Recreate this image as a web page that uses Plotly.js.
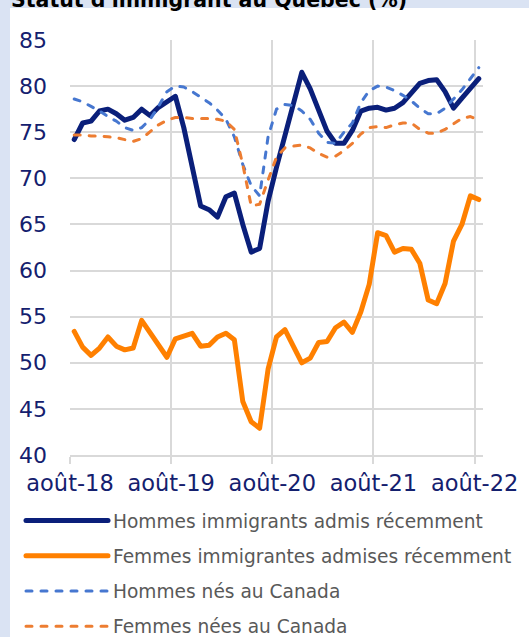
<!DOCTYPE html>
<html><head><meta charset="utf-8">
<script src="https://cdn.plot.ly/plotly-3.0.1.min.js"></script>
<style>
html,body{margin:0;padding:0;background:#dae3f3;overflow:hidden;}
#chart{width:529px;height:637px;}
.scatterlayer .js-line, .legendlines path{stroke-linecap:round;stroke-linejoin:round;}
</style></head><body><div id="chart"></div><script>
const months = ['2018-08','2018-09','2018-10','2018-11','2018-12',
'2019-01','2019-02','2019-03','2019-04','2019-05','2019-06','2019-07','2019-08','2019-09','2019-10','2019-11','2019-12',
'2020-01','2020-02','2020-03','2020-04','2020-05','2020-06','2020-07','2020-08','2020-09','2020-10','2020-11','2020-12',
'2021-01','2021-02','2021-03','2021-04','2021-05','2021-06','2021-07','2021-08','2021-09','2021-10','2021-11','2021-12',
'2022-01','2022-02','2022-03','2022-04','2022-05','2022-06','2022-07','2022-08'];
const tickMonths = ['2018-08','2019-08','2020-08','2021-08','2022-08'];
const tickLabels = ['août-18','août-19','août-20','août-21','août-22'];

const hommesImmigrants = [74.2,76.0,76.2,77.3,77.5,77.0,76.3,76.6,77.5,76.8,77.7,78.3,78.9,75.5,71.0,67.0,66.6,65.8,68.0,68.4,65.0,62.0,62.4,67.5,71.2,74.6,78.0,81.5,79.7,77.3,75.1,73.8,73.8,75.2,77.3,77.6,77.7,77.4,77.6,78.2,79.2,80.3,80.6,80.7,79.4,77.6,78.7,79.8,80.8];
const femmesImmigrantes = [53.4,51.7,50.8,51.6,52.8,51.8,51.4,51.6,54.6,53.3,51.9,50.6,52.6,52.9,53.2,51.8,51.9,52.8,53.2,52.5,45.8,43.6,42.9,49.3,52.8,53.6,51.8,50.0,50.5,52.2,52.3,53.8,54.4,53.3,55.5,58.5,64.1,63.8,62.0,62.4,62.3,60.8,56.8,56.4,58.6,63.2,65.0,68.1,67.7];
const hommesCanada = [78.6,78.3,77.8,77.3,76.7,76.2,75.5,75.2,75.5,76.4,77.8,79.4,80.0,79.9,79.4,78.8,78.2,77.4,76.4,74.5,71.5,69.2,68.1,74.5,77.5,78.0,77.9,77.3,76.4,74.9,73.9,73.8,75.0,76.0,78.2,79.5,80.0,79.9,79.5,79.0,78.4,77.6,77.0,77.0,77.6,78.6,79.6,80.8,82.0];
const femmesCanada = [74.7,74.7,74.6,74.6,74.5,74.4,74.2,74.0,74.3,75.0,75.8,76.3,76.6,76.6,76.5,76.5,76.5,76.4,76.2,75.3,71.5,67.0,67.2,69.8,72.3,73.3,73.5,73.6,73.3,72.7,72.3,72.4,73.0,73.8,74.8,75.5,75.6,75.5,75.8,76.0,76.0,75.3,74.9,74.9,75.3,75.9,76.5,76.7,76.3];
const seriesNames = ['Hommes immigrants admis récemment','Femmes immigrantes admises récemment','Hommes nés au Canada','Femmes nées au Canada'];

const xIdx = months.map((m, i) => i);
const tickIdx = tickMonths.map(m => months.indexOf(m));
const font = 'DejaVu Sans';

function tr(y, name, color, width, dash, g){
  return {x: xIdx, y: y, text: months, name: name, type: 'scatter', mode: 'lines',
    line: {color: color, width: width, dash: dash}, legendgroup: g,
    hovertemplate: '%{text}: %{y}<extra>' + name + '</extra>'};
}
const data = [
  tr(hommesImmigrants, seriesNames[0], '#0a1f7a', 5, 'solid', 'a'),
  tr(femmesImmigrantes, seriesNames[1], '#ff8000', 5, 'solid', 'b'),
  tr(hommesCanada, seriesNames[2], '#4677d0', 3, '6px,9px', 'c'),
  tr(femmesCanada, seriesNames[3], '#ed7d31', 3, '6px,9px', 'd')
];

const L = 70, R = 483, T = 40, B = 455, W = 529, H = 637;
const px = x => (x - L) / (R - L);
const py = y => (B - y) / (B - T);

const layout = {
  width: W, height: H,
  margin: {l: L, r: W - R, t: T, b: H - B, pad: 0, autoexpand: false},
  paper_bgcolor: '#dae3f3', plot_bgcolor: '#ffffff',
  showlegend: true,
  font: {family: font, color: '#14206e'},
  xaxis: {
    range: [-0.5, months.length - 0.5], tickmode: 'array',
    tickvals: tickIdx.map(i => i - 0.5), ticktext: tickLabels,
    ticklabelshift: 4.2, ticklabelstandoff: 0,
    ticks: 'outside', ticklen: 7, tickwidth: 2, tickcolor: '#d9d9d9',
    showgrid: true, gridcolor: '#d9d9d9', gridwidth: 2,
    showline: true, linecolor: '#d9d9d9', linewidth: 2,
    zeroline: false, fixedrange: true, automargin: false,
    tickfont: {family: font, size: 22.5, color: '#14206e'}
  },
  yaxis: {
    range: [40, 85], tickmode: 'linear', tick0: 40, dtick: 5,
    ticks: '', ticklabelstandoff: 22,
    showgrid: true, gridcolor: '#d9d9d9', gridwidth: 2,
    showline: false, zeroline: false, fixedrange: true, automargin: false,
    tickfont: {family: font, size: 22, color: '#14206e'}
  },
  legend: {
    x: px(21), y: py(502), xanchor: 'left', yanchor: 'top',
    bgcolor: 'rgba(0,0,0,0)', borderwidth: 0,
    itemwidth: 82, tracegroupgap: 8, traceorder: 'grouped',
    font: {family: font, size: 18.6, color: '#595959'}
  },
  shapes: [{type: 'rect', xref: 'paper', yref: 'paper', layer: 'below',
    x0: px(10), x1: px(W + 5), y0: py(H + 5), y1: py(8),
    fillcolor: '#ffffff', line: {width: 0}}],
  annotations: [{xref: 'paper', yref: 'paper', x: px(9), y: py(14),
    xanchor: 'left', yanchor: 'bottom', showarrow: false,
    text: "<b>Statut d'immigrant au Québec (%)</b>",
    font: {family: font, size: 20.5, color: '#000000'}}]
};

Plotly.newPlot('chart', data, layout, {displayModeBar: false, staticPlot: true});
</script></body></html>
